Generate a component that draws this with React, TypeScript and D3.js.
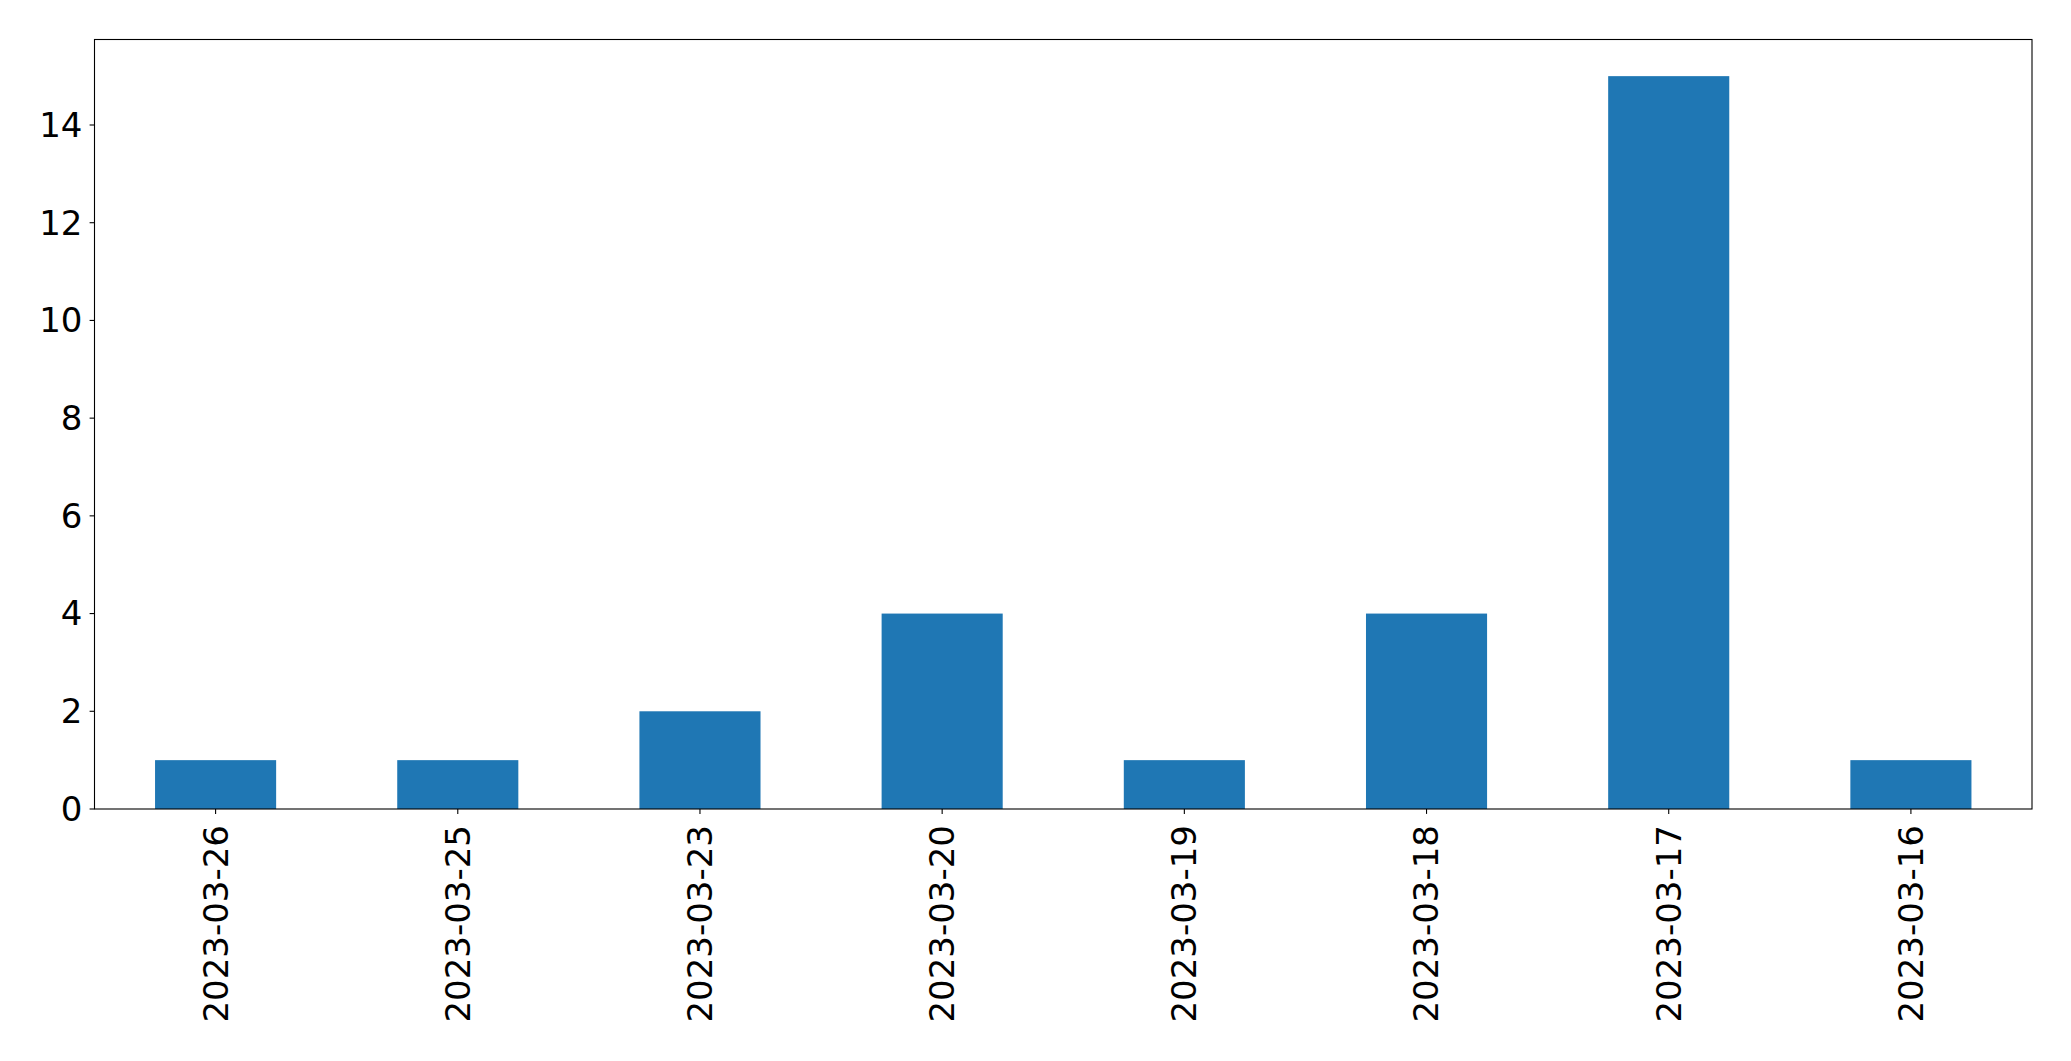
import React from "react";
import * as d3 from "d3";

const categories: string[] = [
  "2023-03-26",
  "2023-03-25",
  "2023-03-23",
  "2023-03-20",
  "2023-03-19",
  "2023-03-18",
  "2023-03-17",
  "2023-03-16",
];
const values: number[] = [1, 1, 2, 4, 1, 4, 15, 1];
const yTicks: number[] = [0, 2, 4, 6, 8, 10, 12, 14];

const W = 2071;
const H = 1061;
const left = 94.5;
const right = 2032;
const top = 39.5;
const bottom = 809;
const FONT = "'DejaVu Sans', sans-serif";
const FS = 34;

export default function App() {
  const x = d3
    .scaleLinear()
    .domain([-0.5, categories.length - 0.5])
    .range([left, right]);
  const y = d3
    .scaleLinear()
    .domain([0, d3.max(values)! * 1.05])
    .range([bottom, top]);
  const barW = x(0.25) - x(-0.25);

  return (
    <svg
      width={W}
      height={H}
      style={{ position: "absolute", left: 0, top: 0, background: "#fff" }}
    >
      <rect x={0} y={0} width={W} height={H} fill="#fff" />
      {values.map((v, i) => (
        <rect
          key={i}
          x={x(i) - barW / 2}
          y={y(v)}
          width={barW}
          height={y(0) - y(v)}
          fill="#1f77b4"
        />
      ))}
      <rect
        x={left}
        y={top}
        width={right - left}
        height={bottom - top}
        fill="none"
        stroke="#000"
        strokeWidth={1.1}
      />
      {yTicks.map((t) => (
        <g key={t}>
          <line x1={left - 4.9} x2={left} y1={y(t)} y2={y(t)} stroke="#000" strokeWidth={1.1} />
          <text
            x={left - 12}
            y={y(t)}
            dy="0.35em"
            textAnchor="end"
            fontFamily={FONT}
            fontSize={FS}
            fill="#000"
          >
            {t}
          </text>
        </g>
      ))}
      {categories.map((c, i) => (
        <g key={c}>
          <line x1={x(i)} x2={x(i)} y1={bottom} y2={bottom + 4.9} stroke="#000" strokeWidth={1.1} />
          <text
            transform={`translate(${x(i)},${bottom + 16}) rotate(-90)`}
            dy="0.35em"
            textAnchor="end"
            fontFamily={FONT}
            fontSize={FS}
            fill="#000"
          >
            {c}
          </text>
        </g>
      ))}
    </svg>
  );
}
